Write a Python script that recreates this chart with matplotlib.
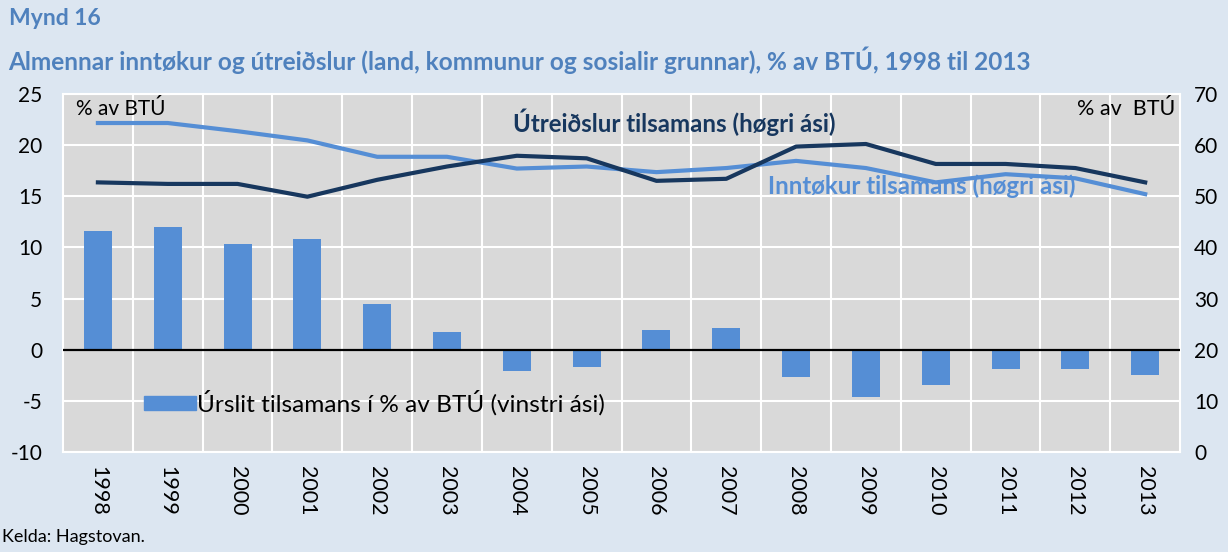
import numpy as np
import matplotlib.pyplot as plt

plt.rcParams['font.family'] = ['Lato', 'DejaVu Sans']
plt.rcParams['axes.unicode_minus'] = False

# data
years = [str(y) for y in range(1998, 2014)]
urslit = [11.6, 12.0, 10.3, 10.85, 4.5, 1.75, -2.1, -1.7, 1.95, 2.15,
          -2.7, -4.6, -3.4, -1.9, -1.9, -2.45]
inntokur = [64.3, 64.3, 62.7, 60.9, 57.7, 57.7, 55.4, 55.8, 54.7, 55.5,
            56.9, 55.5, 52.7, 54.3, 53.5, 50.4]
utreidslur = [52.7, 52.4, 52.4, 49.9, 53.2, 55.8, 57.9, 57.4, 53.0, 53.4,
              59.7, 60.2, 56.3, 56.3, 55.5, 52.7]

bg = '#dce6f1'
light = '#558ed5'
dark = '#17375e'

fig = plt.figure(figsize=(12.28, 5.52), dpi=100, facecolor=bg)
ax = fig.add_axes([0.0513, 0.181, 0.9097, 0.649])
ax.set_facecolor('#d9d9d9')

x = np.arange(len(years))
ax.bar(x, urslit, width=0.4, color=light, zorder=2)
ax.axhline(0, color='black', lw=1.6, zorder=3)

ax.set_ylim(-10, 25)
ax.set_yticks(range(-10, 30, 5))
ax.set_xlim(-0.5, len(years) - 0.5)
ax.set_xticks(x)
ax.set_xticklabels(years, rotation=-90, fontsize=15.5)
ax.set_xticks(np.arange(0.5, len(years) - 0.5), minor=True)
ax.tick_params(axis='x', which='both', length=0, pad=10)
ax.tick_params(axis='y', length=0, labelsize=15, pad=15)
ax.grid(axis='y', color='white', lw=1.5)
ax.grid(axis='x', which='minor', color='white', lw=1.5)
ax.set_axisbelow(True)
for s in ax.spines.values():
    s.set_color('white')
    s.set_linewidth(1.5)

ax2 = ax.twinx()
ax2.plot(x, inntokur, color=light, lw=3, zorder=4)
ax2.plot(x, utreidslur, color=dark, lw=3, zorder=4)
ax2.set_ylim(0, 70)
ax2.set_yticks(range(0, 80, 10))
ax2.tick_params(axis='y', length=0, labelsize=15, pad=10)
for s in ax2.spines.values():
    s.set_visible(False)

# texts
fig.text(0.007, 0.967, 'Mynd 16', color='#4f81bd', fontsize=16.5,
         fontweight='bold', va='center')
fig.text(0.007, 0.891,
         'Almennar inntøkur og útreiðslur (land, kommunur og sosialir grunnar), % av BTÚ, 1998 til 2013',
         color='#4f81bd', fontsize=17.6, fontweight='bold', va='center')
fig.text(0.002, 0.012, 'Kelda: Hagstovan.', fontsize=13, va='bottom')

ax.text(0.012, 0.985, '% av BTÚ', transform=ax.transAxes, fontsize=15,
        va='top', ha='left')
ax.text(0.996, 0.985, '% av  BTÚ', transform=ax.transAxes, fontsize=15.5,
        va='top', ha='right')
ax2.text(8.25, 64.5, 'Útreiðslur tilsamans (høgri ási)', color=dark,
         fontsize=17.3, fontweight='bold', ha='center', va='center')
ax2.text(11.8, 52.0, 'Inntøkur tilsamans (høgri ási)', color=light,
         fontsize=17.3, fontweight='bold', ha='center', va='center')

# legend
lx0 = (144 - 63) / 1117
lx1 = (196 - 63) / 1117
ly0 = (452 - 410) / 358
ly1 = (452 - 396) / 358
ax.add_patch(plt.Rectangle((lx0, ly0), lx1 - lx0, ly1 - ly0,
                           transform=ax.transAxes, color=light, zorder=5))
ax.text(lx1 + 0.001, (ly0 + ly1) / 2, 'Úrslit tilsamans í % av BTÚ (vinstri ási)',
        transform=ax.transAxes, fontsize=17.6, va='center', ha='left', zorder=5)

fig.savefig('out.png', dpi=100, facecolor=bg)
